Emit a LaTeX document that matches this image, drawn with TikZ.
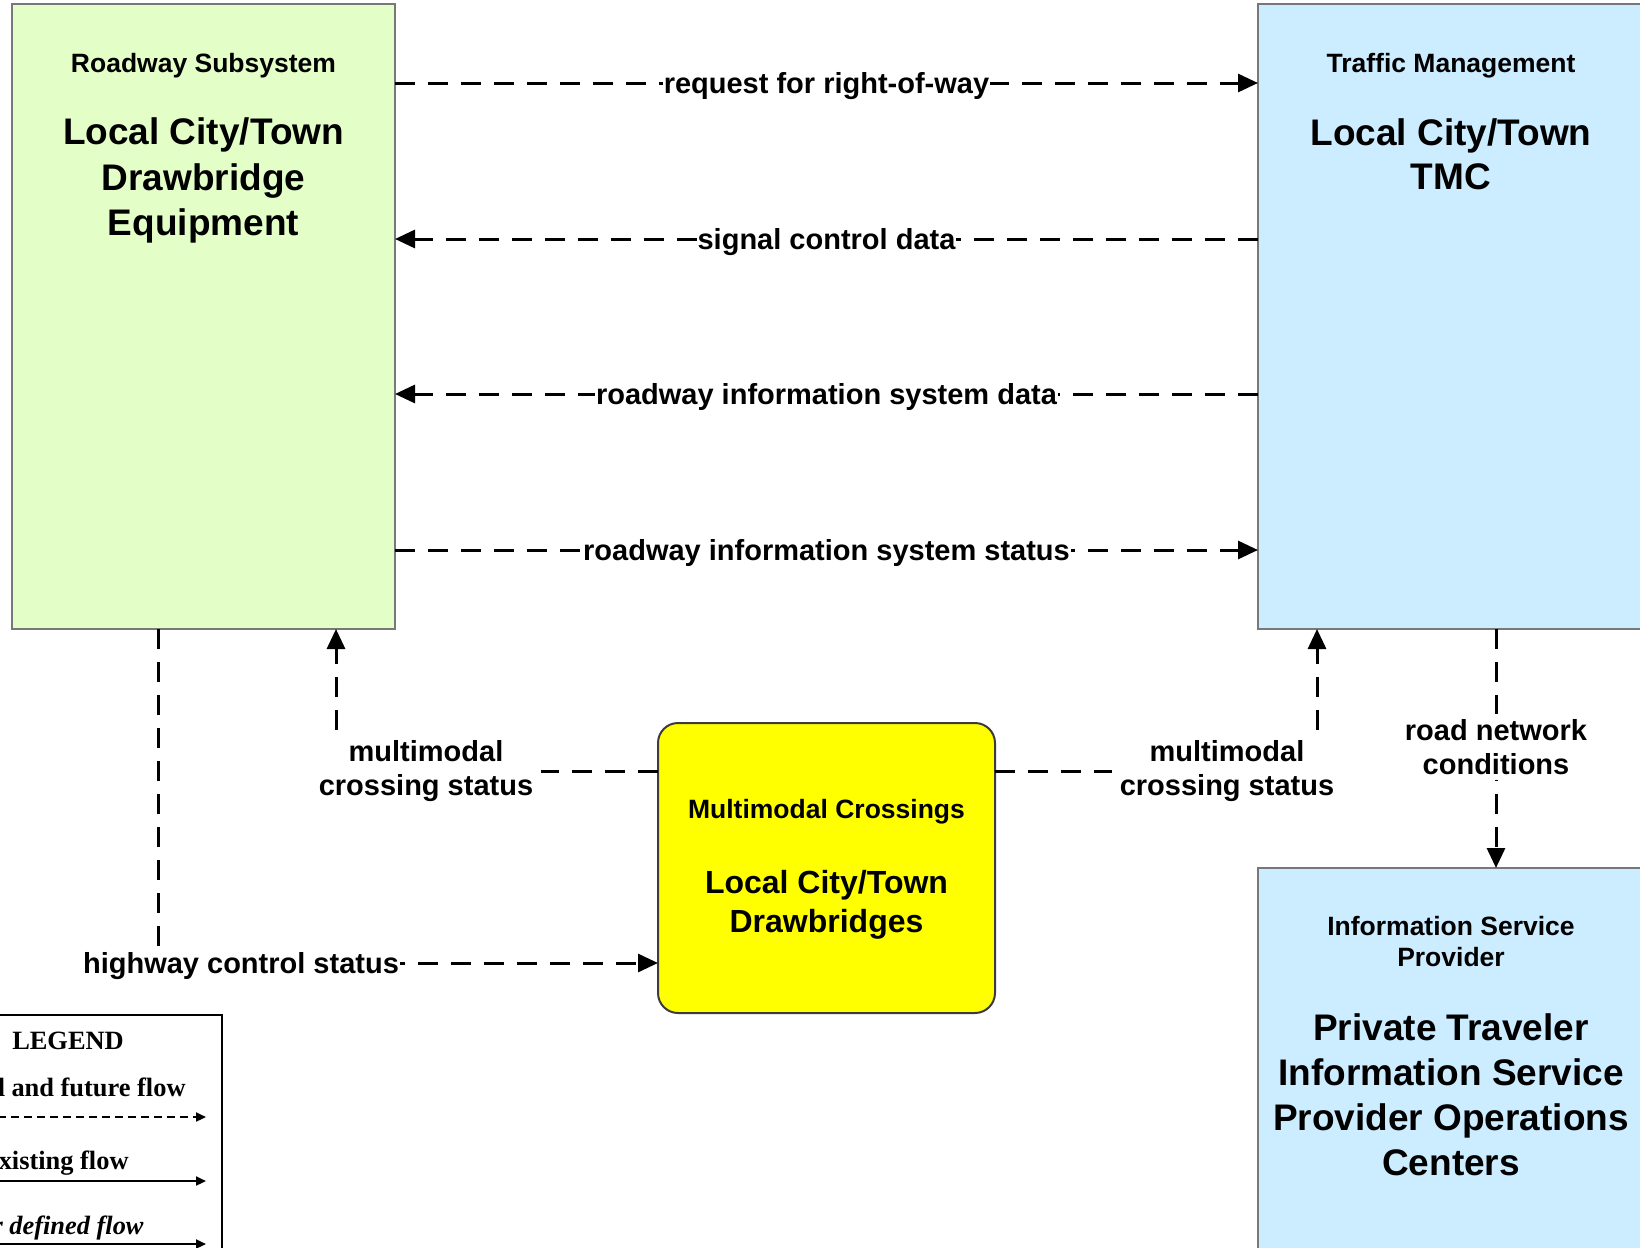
\documentclass[tikz,border=0pt]{standalone}
\usepackage{fontspec}
\setmainfont{Liberation Sans}
\newfontfamily\legfont{Liberation Serif}
\usetikzlibrary{arrows.meta}
\definecolor{gfill}{RGB}{227,255,199}
\definecolor{bfill}{RGB}{204,236,255}
\definecolor{yfill}{RGB}{255,255,0}
\definecolor{bord}{RGB}{120,120,120}
\definecolor{ybord}{RGB}{60,60,60}
\tikzset{
 box/.style={draw=bord, line width=1pt, inner sep=0pt, outer sep=0pt},
 hdr/.style={font=\fontsize{13.25pt}{15.5pt}\selectfont\bfseries, anchor=base, inner sep=0pt},
 big/.style={font=\fontsize{18.5pt}{22pt}\selectfont\bfseries, anchor=base, inner sep=0pt},
 bigy/.style={font=\fontsize{16pt}{19.5pt}\selectfont\bfseries, anchor=base, inner sep=0pt},
 lbl/.style={font=\fontsize{14.5pt}{17pt}\selectfont\bfseries, fill=white, inner xsep=0.5pt, inner ysep=1pt, text height=10.5pt, text depth=0.5pt},
 lbltwo/.style={font=\fontsize{14.5pt}{17pt}\selectfont\bfseries, fill=white, align=center, inner xsep=4pt, inner ysep=2.5pt},
 flow/.style={line width=1.5pt, dash pattern=on 10pt off 6.5pt},
 arrowend/.style={-{Triangle[length=10pt,width=9pt]}},
 legtxt/.style={font=\fontsize{13.2pt}{15pt}\selectfont\legfont\bfseries, inner sep=0pt},
 legline/.style={line width=1.1pt, -{Triangle[length=5pt,width=4.5pt]}},
}
\begin{document}
\begin{tikzpicture}[x=0.5pt,y=-0.5pt]
\useasboundingbox (0,0) rectangle (1640,1248);
\clip (0,0) rectangle (1640,1248);
\fill[white] (0,0) rectangle (1640,1248);

% boxes
\node[box, fill=gfill, minimum width=191.5pt, minimum height=312.5pt] (rsub) at (203.5,316.5) {};
\node[box, fill=bfill, minimum width=193pt, minimum height=312.5pt] (tmc) at (1451,316.5) {};
\node[box, fill=bfill, minimum width=193pt, minimum height=316pt] (isp) at (1451,1184) {};
\node[box, draw=ybord, fill=yfill, rounded corners=10pt, minimum width=168.5pt, minimum height=145pt] (yel) at (826.5,868) {};

% box texts
\node[hdr] (rsubA) at (203.5,72) {Roadway Subsystem};
\node[big] (rsubB) at (203.5,144) {Local City/Town};
\node[big] (rsubC) at (203.5,190) {Drawbridge};
\node[big] (rsubD) at (203.5,235) {Equipment};

\node[hdr] (tmcA) at (1451,72) {Traffic Management};
\node[big] (tmcB) at (1451,145) {Local City/Town};
\node[big] (tmcC) at (1451,189) {TMC};

\node[hdr] (ispA) at (1451,935) {Information Service};
\node[hdr] (ispB) at (1451,966) {Provider};
\node[big] (ispC) at (1451,1040) {Private Traveler};
\node[big] (ispD) at (1451,1085) {Information Service};
\node[big] (ispE) at (1451,1130) {Provider Operations};
\node[big] (ispF) at (1451,1175) {Centers};

\node[hdr] (yelA) at (826.5,818) {Multimodal Crossings};
\node[bigy] (yelB) at (826.5,893) {Local City/Town};
\node[bigy] (yelC) at (826.5,932) {Drawbridges};

% flow rows
\coordinate (r1) at (0,83);
\coordinate (r2) at (0,239);
\coordinate (r3) at (0,394);
\coordinate (r4) at (0,550);
\draw[flow, arrowend] (rsub.east |- r1) -- node[lbl] (f1) {request for right-of-way} (tmc.west |- r1);
\draw[flow, arrowend] (tmc.west |- r2) -- node[lbl] (f2) {signal control data} (rsub.east |- r2);
\draw[flow, arrowend] (tmc.west |- r3) -- node[lbl] (f3) {roadway information system data} (rsub.east |- r3);
\draw[flow, arrowend] (rsub.east |- r4) -- node[lbl] (f4) {roadway information system status} (tmc.west |- r4);

% multimodal crossing status (left)
\coordinate (mL) at (336,771);
\draw[flow, arrowend] (yel.west |- mL) -| (rsub.south -| mL);
\node[lbltwo] (f5) at (426,771) {multimodal\\crossing status};

% multimodal crossing status (right)
\coordinate (mR) at (1317,771);
\draw[flow, arrowend] (yel.east |- mR) -| (tmc.south -| mR);
\node[lbltwo] (f6) at (1227,771) {multimodal\\crossing status};

% road network conditions
\coordinate (rn) at (1496,0);
\draw[flow, arrowend] (tmc.south -| rn) -- (isp.north -| rn);
\node[lbltwo, inner xsep=2pt] (f7) at (1496,747) {road network\\conditions};

% highway control status
\coordinate (hw) at (158,963);
\draw[flow, arrowend] (rsub.south -| hw) |- (yel.west |- hw);
\node[lbl] (f8) at (241,963) {highway control status};

% legend
\node[draw=black, line width=1.1pt, inner sep=0pt, minimum width=154pt, minimum height=142.5pt] (leg) at (68,1157.5) {};
\node[legtxt, anchor=base] (legH) at (68,1049) {LEGEND};
\node[legtxt, anchor=base east] (legA) at (186,1096) {Planned and future flow};
\node[legtxt, anchor=base east] (legB) at (129,1169) {Existing flow};
\node[legtxt, anchor=base east] (legC) at (144,1234) {\itshape User defined flow};
\coordinate (la1) at (-80,1117);
\coordinate (lb1) at (206,1117);
\coordinate (la2) at (-80,1181);
\coordinate (lb2) at (206,1181);
\coordinate (la3) at (-80,1244);
\coordinate (lb3) at (206,1244);
\draw[legline, dash pattern=on 4pt off 2.5pt] (la1) -- (lb1);
\draw[legline] (la2) -- (lb2);
\draw[legline] (la3) -- (lb3);
\end{tikzpicture}
\end{document}
